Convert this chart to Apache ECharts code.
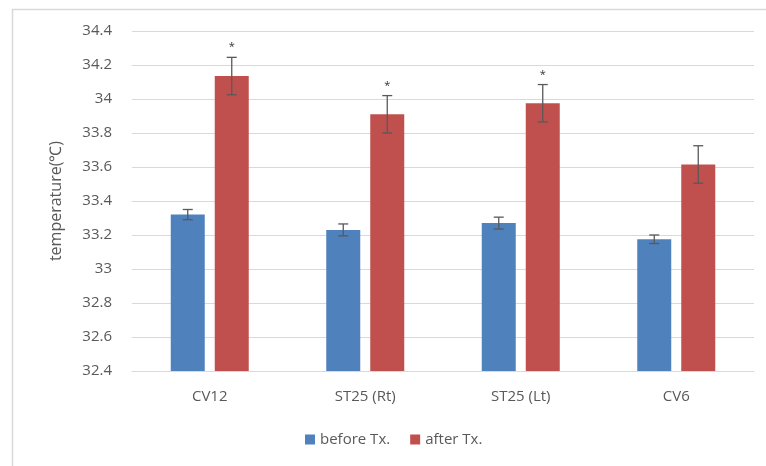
<!DOCTYPE html>
<html>
<head>
<meta charset="utf-8">
<script src="https://cdn.jsdelivr.net/npm/echarts@6/dist/echarts.min.js"></script>
<style>
  html, body { margin: 0; padding: 0; background: #fff; }
  #chart { width: 766px; height: 466px; }
</style>
</head>
<body>
<div id="chart"></div>
<script>
// 数据
var categories = ['CV12', 'ST25 (Rt)', 'ST25 (Lt)', 'CV6'];
var beforeVals = [33.32, 33.23, 33.27, 33.175];
var beforeErr = [0.03, 0.035, 0.035, 0.025];
var afterVals = [34.135, 33.91, 33.975, 33.615];
var afterErr = [0.11, 0.11, 0.11, 0.11];
var marks = ['*', '*', '*', ''];
var yTicks = { min: 32.4, max: 34.4, interval: 0.2 };

var BAR_W = 34, GAP = 10;
var textColor = '#595959';
var fontFam = '"Open Sans", "Liberation Sans", sans-serif';
var FS = 15;

// 误差线 (custom series)
function errorSeries(vals, errs, side, withMark) {
    var data = vals.map(function (v, i) { return [i, v - errs[i], v + errs[i], withMark ? marks[i] : '']; });
    return {
        type: 'custom',
        z: 10,
        silent: true,
        encode: { x: 0, y: [1, 2] },
        data: data,
        renderItem: function (params, api) {
            var i = api.value(0);
            var lo = api.coord([i, api.value(1)]);
            var hi = api.coord([i, api.value(2)]);
            var x = lo[0] + side * (BAR_W + GAP) / 2;
            var style = { stroke: '#595959', lineWidth: 1.3 };
            var kids = [
                { type: 'line', shape: { x1: x, y1: hi[1], x2: x, y2: lo[1] }, style: style },
                { type: 'line', shape: { x1: x - 5, y1: hi[1], x2: x + 5, y2: hi[1] }, style: style },
                { type: 'line', shape: { x1: x - 5, y1: lo[1], x2: x + 5, y2: lo[1] }, style: style }
            ];
            var m = data[params.dataIndex][3];
            if (m) {
                kids.push({ type: 'text', x: x, y: hi[1] - 10, style: {
                    text: m, fill: '#333', font: '11px ' + fontFam, align: 'center', verticalAlign: 'middle'
                } });
            }
            return { type: 'group', children: kids };
        }
    };
}

var chart = echarts.init(document.getElementById('chart'));
chart.setOption({
    animation: false,
    backgroundColor: '#fff',
    textStyle: { fontFamily: fontFam },
    graphic: [{
        type: 'rect', left: 10, top: 7,
        shape: { width: 770, height: 470 },
        style: { fill: 'none', stroke: '#D9D9D9', lineWidth: 1.5 }
    }],
    grid: { left: 132, right: 12, top: 31, bottom: 95 },
    legend: {
        left: 300, top: 427,
        itemWidth: 10, itemHeight: 10, itemGap: 20,
        icon: 'rect',
        textStyle: { color: textColor, fontSize: FS, fontFamily: fontFam },
        data: ['before Tx.', 'after Tx.']
    },
    xAxis: {
        type: 'category',
        data: categories,
        axisLine: { lineStyle: { color: '#D9D9D9' } },
        axisTick: { show: false },
        axisLabel: { color: textColor, fontSize: FS, margin: 18 }
    },
    yAxis: {
        type: 'value',
        min: yTicks.min, max: yTicks.max, interval: yTicks.interval,
        name: 'temperature(℃)',
        nameLocation: 'middle',
        nameGap: 68,
        nameTextStyle: { color: textColor, fontSize: FS + 1 },
        axisLine: { show: false },
        axisTick: { show: false },
        axisLabel: {
            color: textColor, fontSize: FS, margin: 20,
            formatter: function (v) { return String(+v.toFixed(1)); }
        },
        splitLine: { lineStyle: { color: '#D9D9D9' } }
    },
    series: [
        { name: 'before Tx.', type: 'bar', data: beforeVals, barWidth: BAR_W, barGap: (GAP / BAR_W * 100) + '%',
          itemStyle: { color: '#4F81BD' } },
        { name: 'after Tx.', type: 'bar', data: afterVals, barWidth: BAR_W,
          itemStyle: { color: '#C0504D' } },
        errorSeries(beforeVals, beforeErr, -1, false),
        errorSeries(afterVals, afterErr, 1, true)
    ]
});
</script>
</body>
</html>
